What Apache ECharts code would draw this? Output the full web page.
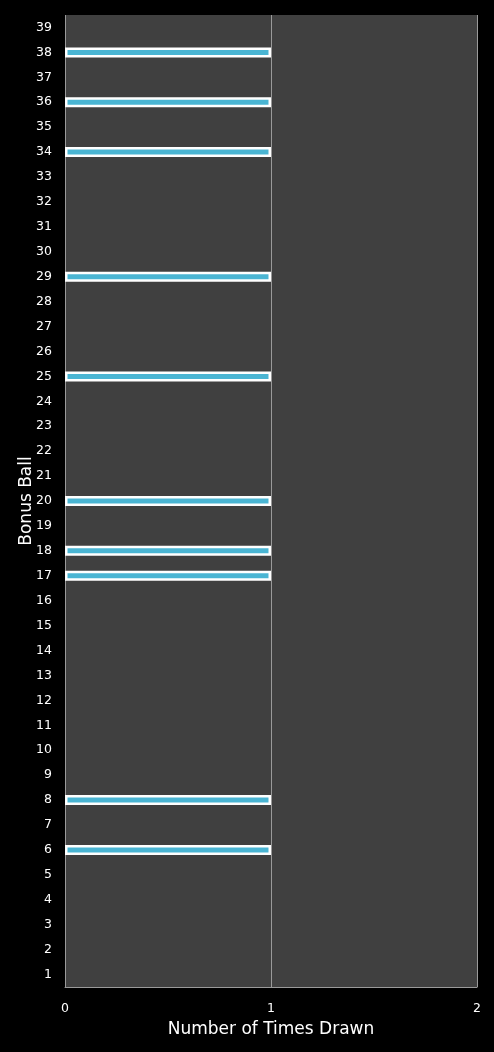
<!DOCTYPE html>
<html><head><meta charset="utf-8">
<script src="https://cdn.jsdelivr.net/npm/echarts@6/dist/echarts.min.js"></script>
<style>html,body{margin:0;padding:0;background:#000;}#c{width:494px;height:1052px;}</style>
</head><body><div id="c"></div>
<script>
const categories = [];
for (let i = 1; i <= 39; i++) categories.push(String(i));
const drawnBalls = ['6','8','17','18','20','25','29','34','36','38'];
const timesDrawn = [0,0,0,0,0,1,0,1,0,0, 0,0,0,0,0,0,1,1,0,1, 0,0,0,0,1,0,0,0,1,0, 0,0,0,1,0,1,0,1,0];
const xTicks = [0,1,2];
const xTitle = 'Number of Times Drawn';
const yTitle = 'Bonus Ball';

const chart = echarts.init(document.getElementById('c'));
const font = 'DejaVu Sans, sans-serif';
chart.setOption({
  backgroundColor: '#000',
  animation: false,
  grid: {left: 65, right: 17, top: 15, bottom: 65, show: true, backgroundColor: '#404040', borderWidth: 0},
  xAxis: {
    type: 'value', min: xTicks[0], max: xTicks[xTicks.length-1], interval: 1,
    name: xTitle, nameLocation: 'middle', nameGap: 34, nameMoveOverlap: false,
    nameTextStyle: {color: '#fff', fontSize: 17, fontFamily: font},
    axisLine: {show: true, lineStyle: {color: '#9a9a9a', width: 1}},
    axisTick: {show: false},
    axisLabel: {color: '#fff', fontSize: 12.5, fontFamily: font, margin: 15},
    splitLine: {show: true, lineStyle: {color: '#9a9a9a', width: 1}}
  },
  yAxis: {
    type: 'category', data: categories,
    name: yTitle, nameLocation: 'middle', nameGap: 30, nameMoveOverlap: false,
    nameTextStyle: {color: '#fff', fontSize: 17, fontFamily: font},
    axisLine: {show: false},
    axisTick: {show: false},
    axisLabel: {color: '#fff', fontSize: 12.5, fontFamily: font, margin: 13, interval: 0},
    splitLine: {show: false}
  },
  series: [{
    type: 'bar',
    data: timesDrawn.map(v => v === 0 ? '-' : v),
    barWidth: 10,
    itemStyle: {color: '#4ab5d3', borderColor: '#ffffff', borderWidth: 2.5}
  }]
});
</script></body></html>
